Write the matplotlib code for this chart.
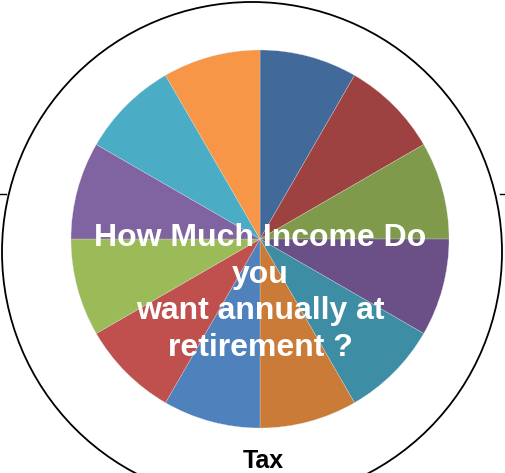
import matplotlib.pyplot as plt
from matplotlib.patches import Circle

# input data: twelve equal slices, clockwise from 12 o'clock
values = [1, 1, 1, 1, 1, 1, 1, 1, 1, 1, 1, 1]
colors = ['#416A9B', '#9D4240', '#7F9A4A', '#6A5087', '#3D8DA4', '#CB7B38',
          '#4F81BD', '#C0504D', '#9BBB59', '#8064A2', '#4BACC6', '#F79646']
title_text = 'How Much Income Do\nyou\nwant annually at\nretirement ?'
bottom_label = 'Tax'

W, H = 506, 473
fig = plt.figure(figsize=(W / 100, H / 100), dpi=100)
ax = fig.add_axes([0, 0, 1, 1])
ax.set_xlim(0, W)
ax.set_ylim(0, H)
ax.set_aspect('equal')
ax.axis('off')

# pie (image coords: centre 260,239  radius 189)
ax.pie(values, colors=colors, center=(260, H - 239), radius=189,
       startangle=90, counterclock=False,
       wedgeprops=dict(edgecolor='#e0e0e0', linewidth=0.2))
ax.set_xlim(0, W)
ax.set_ylim(0, H)

# big outline circle around the pie
ax.add_patch(Circle((252, H - 252), 250, fill=False, edgecolor='black',
                    linewidth=1.3, clip_on=True))

# small tick marks at the edges
ax.plot([0, 6], [H - 194, H - 194], color='black', linewidth=1)
ax.plot([500, W], [H - 194, H - 194], color='black', linewidth=1)

ax.text(260, H - 293, title_text, ha='center', va='center', color='white',
        fontsize=23, fontweight='bold', family='Liberation Sans',
        linespacing=1.29)
ax.text(263, H - 461, bottom_label, ha='center', va='center', color='black',
        fontsize=18, fontweight='bold', family='Liberation Sans')

fig.savefig('out.png', dpi=100)
